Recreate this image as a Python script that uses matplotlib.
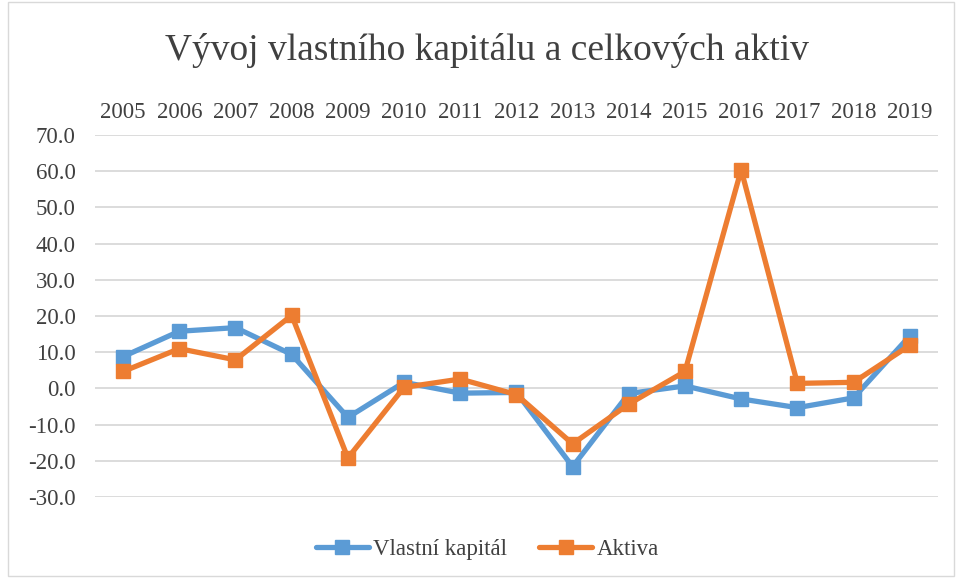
import matplotlib.pyplot as plt
from matplotlib.patches import Rectangle

plt.rcParams['font.family'] = ['Liberation Serif', 'DejaVu Serif']

years = ['2005', '2006', '2007', '2008', '2009', '2010', '2011', '2012',
         '2013', '2014', '2015', '2016', '2017', '2018', '2019']
vlastni_kapital = [8.8, 15.8, 16.8, 9.4, -8.0, 1.7, -1.3, -1.1,
                   -21.6, -1.4, 0.7, -2.9, -5.3, -2.6, 14.5]
aktiva = [4.7, 11.0, 7.9, 20.2, -19.2, 0.3, 2.6, -1.7,
          -15.3, -4.3, 4.7, 60.4, 1.4, 1.7, 11.9]

fig = plt.figure(figsize=(9.56, 5.78), dpi=100)
ax = fig.add_axes([0.0994, 0.140, 0.8816, 0.6264])

x = range(len(years))
ax.plot(x, vlastni_kapital, color='#5B9BD5', lw=3.8, marker='s', ms=10,
        label='Vlastní kapitál', solid_joinstyle='round', solid_capstyle='round')
ax.plot(x, aktiva, color='#ED7D31', lw=3.8, marker='s', ms=10,
        label='Aktiva', solid_joinstyle='round', solid_capstyle='round')

ax.set_xlim(-0.5, len(years) - 0.5)
ax.set_ylim(-30, 70)
ax.set_yticks(range(-30, 71, 10))
ax.set_yticklabels([f'{v:.1f}' for v in range(-30, 71, 10)], fontsize=16.5)
ax.set_xticks(list(x))
ax.set_xticklabels(years, fontsize=16.5)
ax.xaxis.tick_top()
ax.tick_params(axis='both', length=0, colors='#404040')
ax.tick_params(axis='x', pad=9)
ax.tick_params(axis='y', pad=14)
ax.grid(axis='y', color='#D9D9D9', lw=1.3)
ax.set_axisbelow(True)
for s in ax.spines.values():
    s.set_visible(False)

fig.text(0.509, 0.912, 'Vývoj vlastního kapitálu a celkových aktiv',
         ha='center', va='center', fontsize=27, color='#404040')

fig.legend(loc='center', bbox_to_anchor=(0.51, 0.05), ncol=2, frameon=False,
           fontsize=16.5, handlelength=2.3, columnspacing=1.4, handletextpad=0.2,
           labelcolor='#404040')

fig.patches.append(Rectangle((0.008, 0.003), 0.99, 0.994, transform=fig.transFigure,
                             fill=False, edgecolor='#D9D9D9', lw=1))

fig.savefig('out.png', dpi=100)
